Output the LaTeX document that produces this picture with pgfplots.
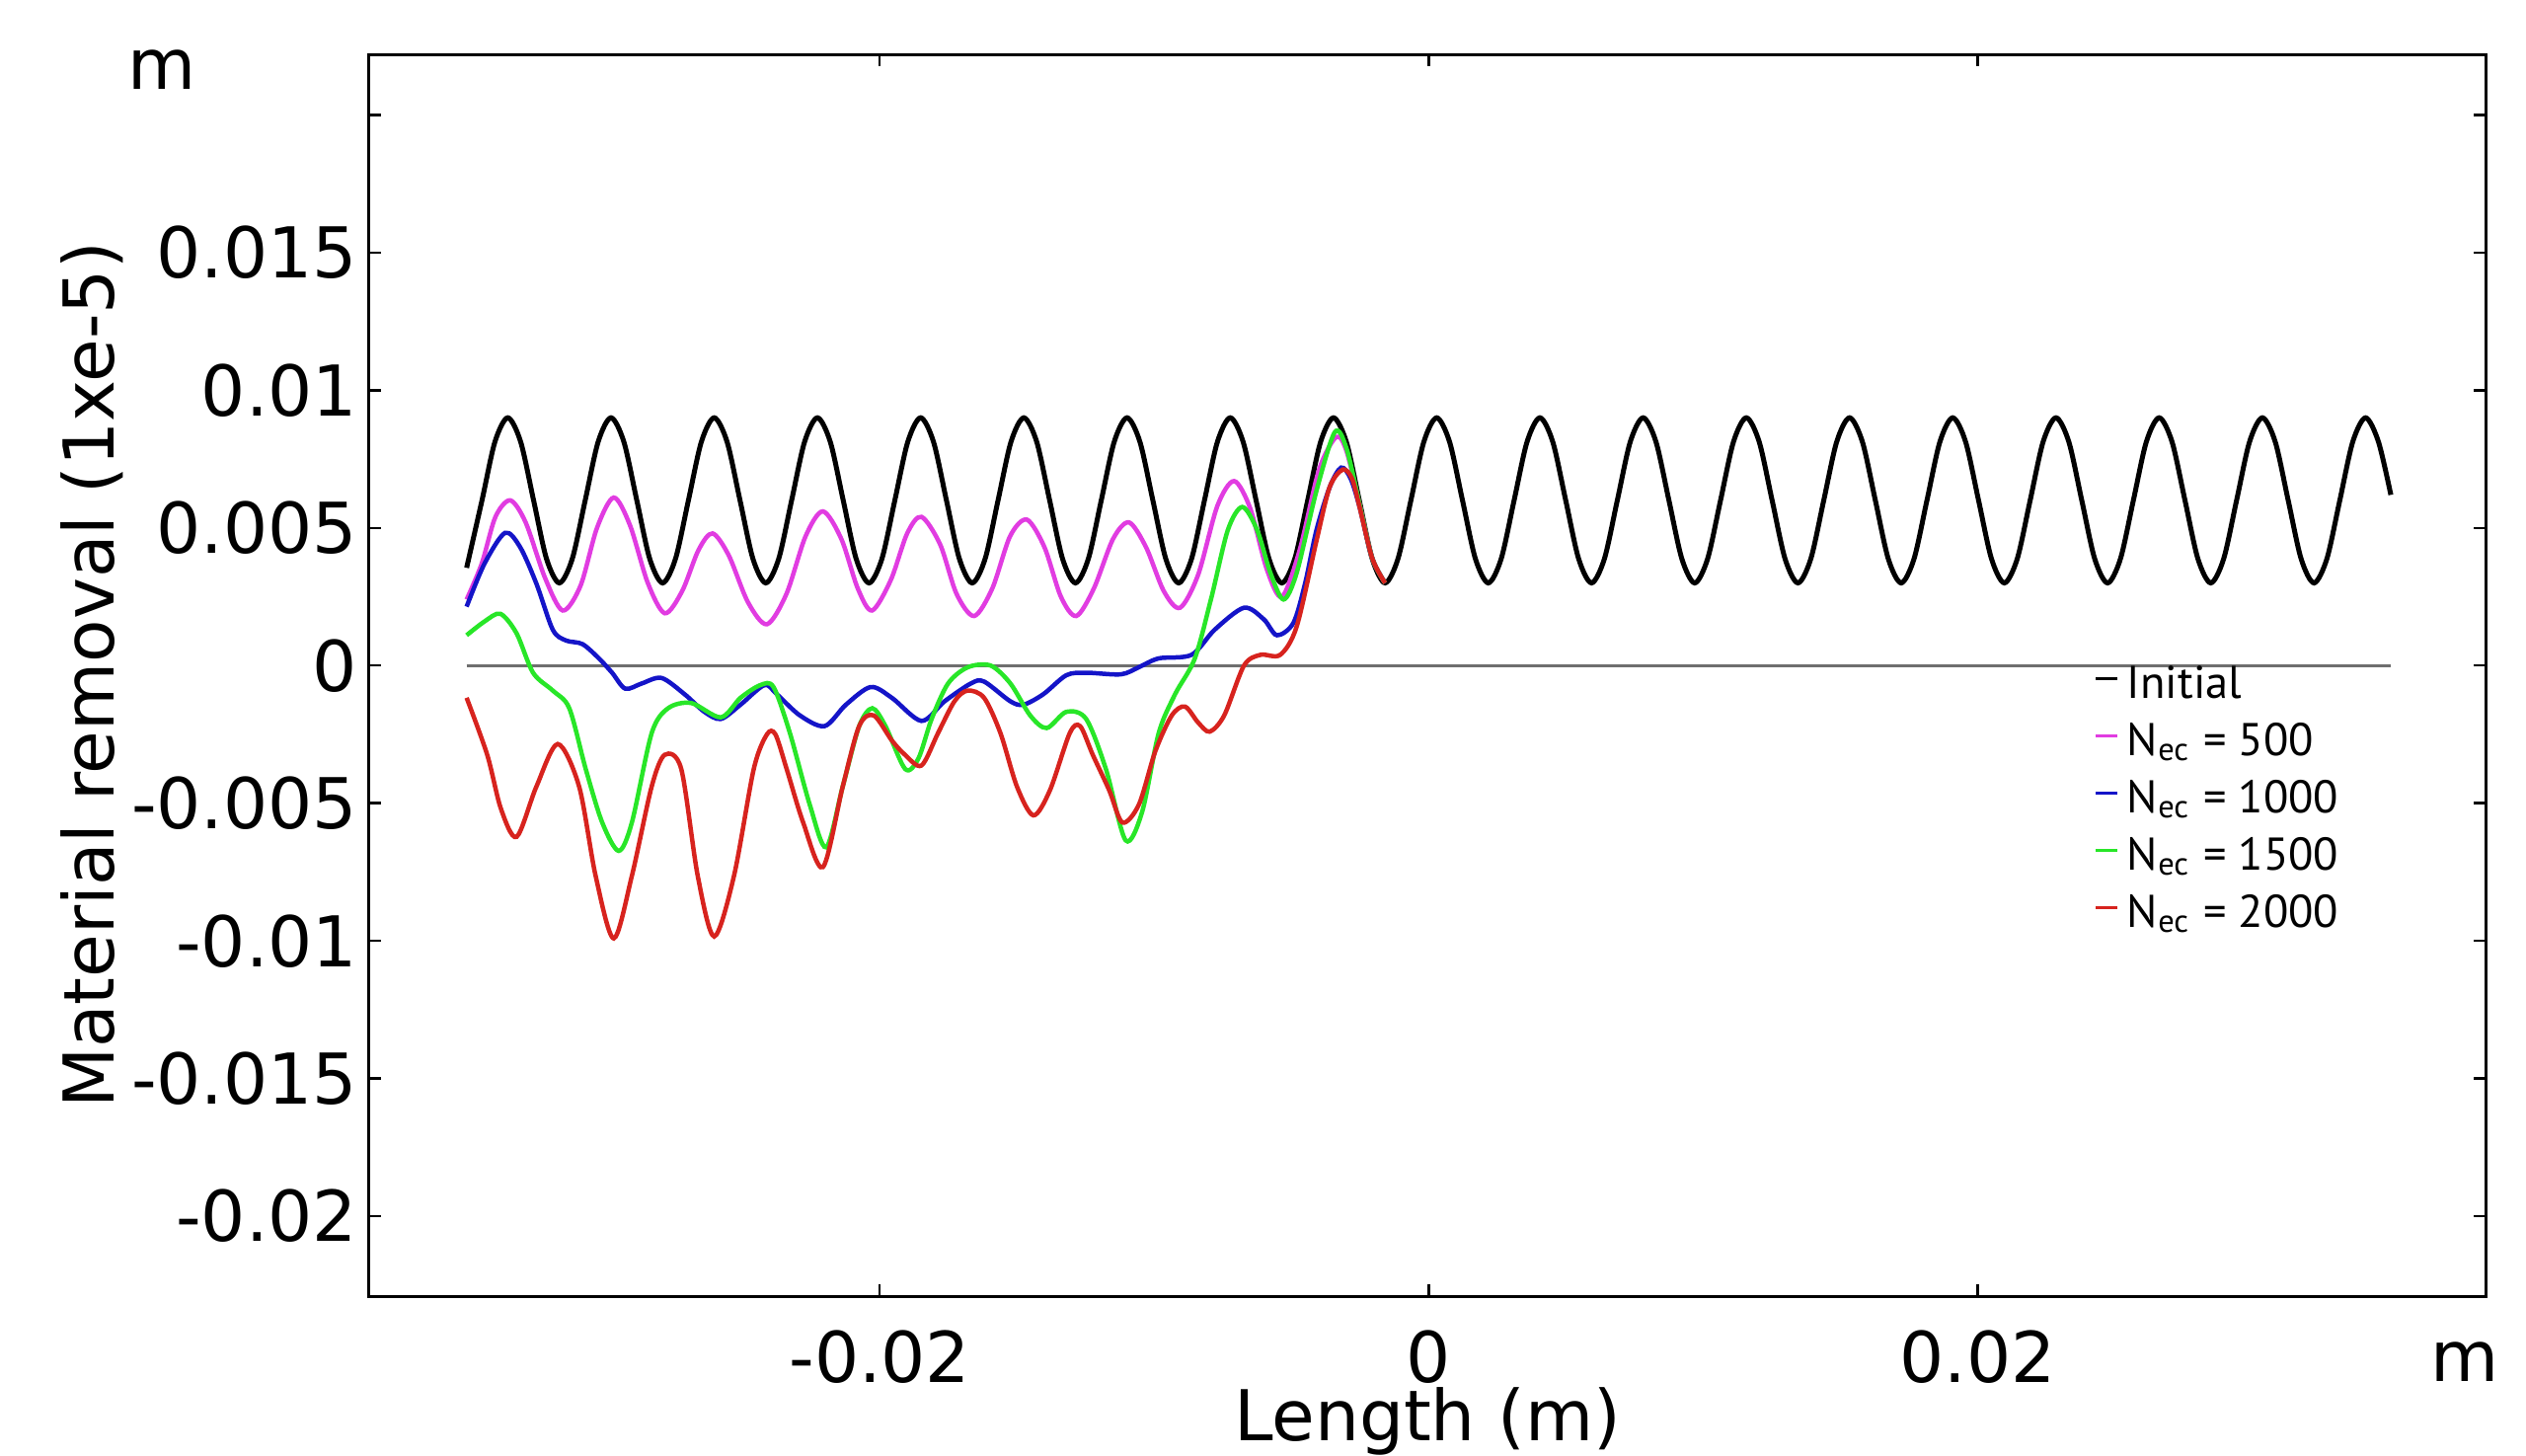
\documentclass[border=0pt]{standalone}
\usepackage{pgfplots}
\pgfplotsset{compat=1.18}
\usepackage{fontspec}
\setmainfont{DejaVu Sans}
\newfontfamily\legfont{PT Sans}
\definecolor{cMag}{RGB}{225,60,225}
\definecolor{cBlue}{RGB}{20,20,200}
\definecolor{cGreen}{RGB}{40,230,40}
\definecolor{cRed}{RGB}{215,35,30}
\definecolor{cZero}{RGB}{110,110,110}
\newcommand{\bigf}{\fontsize{14.2}{17}\selectfont}
\begin{document}
\begin{tikzpicture}
\begin{axis}[
  at={(0,0)}, anchor=south west,
  scale only axis, width=428.8pt, height=251.6pt,
  xmin=-0.0386, xmax=0.0385, ymin=-0.0229, ymax=0.0222,
  axis line style={line width=0.6pt},
  tick align=inside, major tick length=2.4pt,
  tick style={black, line width=0.5pt},
  scaled ticks=false,
  xtick={-0.02,0,0.02}, xticklabels={-0.02,0,0.02},
  ytick={-0.02,-0.015,-0.01,-0.005,0,0.005,0.01,0.015,0.02},
  yticklabels={-0.02,-0.015,-0.01,-0.005,0,0.005,0.01,0.015,{}},
  ticklabel style={font=\bigf},
  xticklabel style={anchor=north, inner sep=0pt, yshift=-6.8pt},
  yticklabel style={anchor=east, inner sep=0pt, xshift=-2.2pt},
  xlabel={Length (m)}, ylabel={Material removal (1xe-5)},
  every axis x label/.style={at={(axis description cs:0.5,-0.0731)}, anchor=north, inner sep=0pt, font=\bigf},
  every axis y label/.style={at={(axis description cs:-0.1311,0.5)}, anchor=center, rotate=90, font=\bigf},
  clip=false,
  legend style={at={(axis description cs:0.8148,0.510)}, anchor=north west,
    draw=none, fill=none, inner sep=0pt, row sep=0pt, column sep=1.6pt,
    font=\legfont\fontsize{9.3}{10}\selectfont,
    nodes={inner sep=0pt, text height=7pt, text depth=4.6pt, anchor=west}},
  legend cell align=left,
  legend image code/.code={\draw[#1, line width=0.6pt] (0pt,2.8pt) -- (4.4pt,2.8pt);},
]
\addplot[cZero, line width=0.6pt, forget plot] coordinates {(-0.03505,0) (0.03505,0)};

\addplot[black, line width=1pt, smooth] coordinates {
(-0.03505,0.00355) (-0.03449,0.00600) (-0.03402,0.00812) (-0.03355,0.00900)
(-0.03308,0.00812) (-0.03261,0.006) (-0.03214,0.00388) (-0.03167,0.003)
(-0.03120,0.00388) (-0.03073,0.006) (-0.03026,0.00812) (-0.02979,0.009)
(-0.02932,0.00812) (-0.02885,0.006) (-0.02838,0.00388) (-0.02791,0.003)
(-0.02744,0.00388) (-0.02697,0.006) (-0.02650,0.00812) (-0.02603,0.009)
(-0.02556,0.00812) (-0.02509,0.006) (-0.02462,0.00388) (-0.02415,0.003)
(-0.02368,0.00388) (-0.02321,0.006) (-0.02274,0.00812) (-0.02227,0.009)
(-0.02180,0.00812) (-0.02133,0.006) (-0.02086,0.00388) (-0.02039,0.003)
(-0.01992,0.00388) (-0.01945,0.006) (-0.01898,0.00812) (-0.01851,0.009)
(-0.01804,0.00812) (-0.01757,0.006) (-0.01710,0.00388) (-0.01663,0.003)
(-0.01616,0.00388) (-0.01569,0.006) (-0.01522,0.00812) (-0.01475,0.009)
(-0.01428,0.00812) (-0.01381,0.006) (-0.01334,0.00388) (-0.01287,0.003)
(-0.01240,0.00388) (-0.01193,0.006) (-0.01146,0.00812) (-0.01099,0.009)
(-0.01052,0.00812) (-0.01005,0.006) (-0.00958,0.00388) (-0.00911,0.003)
(-0.00864,0.00388) (-0.00817,0.006) (-0.00770,0.00812) (-0.00723,0.009)
(-0.00676,0.00812) (-0.00629,0.006) (-0.00582,0.00388) (-0.00535,0.003)
(-0.00488,0.00388) (-0.00441,0.006) (-0.00394,0.00812) (-0.00347,0.009)
(-0.00300,0.00812) (-0.00253,0.006) (-0.00206,0.00388) (-0.00159,0.003)
(-0.00112,0.00388) (-0.00065,0.006) (-0.00018,0.00812) (0.00029,0.009)
(0.00076,0.00812) (0.00123,0.006) (0.00170,0.00388) (0.00217,0.003)
(0.00264,0.00388) (0.00311,0.006) (0.00358,0.00812) (0.00405,0.009)
(0.00452,0.00812) (0.00499,0.006) (0.00546,0.00388) (0.00593,0.003)
(0.00640,0.00388) (0.00687,0.006) (0.00734,0.00812) (0.00781,0.009)
(0.00828,0.00812) (0.00875,0.006) (0.00922,0.00388) (0.00969,0.003)
(0.01016,0.00388) (0.01063,0.006) (0.01110,0.00812) (0.01157,0.009)
(0.01204,0.00812) (0.01251,0.006) (0.01298,0.00388) (0.01345,0.003)
(0.01392,0.00388) (0.01439,0.006) (0.01486,0.00812) (0.01533,0.009)
(0.01580,0.00812) (0.01627,0.006) (0.01674,0.00388) (0.01721,0.003)
(0.01768,0.00388) (0.01815,0.006) (0.01862,0.00812) (0.01909,0.009)
(0.01956,0.00812) (0.02003,0.006) (0.02050,0.00388) (0.02097,0.003)
(0.02144,0.00388) (0.02191,0.006) (0.02238,0.00812) (0.02285,0.009)
(0.02332,0.00812) (0.02379,0.006) (0.02426,0.00388) (0.02473,0.003)
(0.02520,0.00388) (0.02567,0.006) (0.02614,0.00812) (0.02661,0.009)
(0.02708,0.00812) (0.02755,0.006) (0.02802,0.00388) (0.02849,0.003)
(0.02896,0.00388) (0.02943,0.006) (0.02990,0.00812) (0.03037,0.009)
(0.03084,0.00812) (0.03131,0.006) (0.03178,0.00388) (0.03225,0.003)
(0.03272,0.00388) (0.03319,0.006) (0.03366,0.00812) (0.03413,0.009)
(0.03460,0.00812) (0.03505,0.0062)
};
\addlegendentry{Initial}

\addplot[cMag, line width=0.9pt, smooth] coordinates {
(-0.03505,0.0024) (-0.0345,0.0037) (-0.03400,0.0054) (-0.03346,0.0060)
(-0.03290,0.0052) (-0.03220,0.0032) (-0.03155,0.0020) (-0.03090,0.0029)
(-0.03030,0.0050) (-0.02969,0.0061) (-0.02910,0.0051) (-0.02845,0.0030)
(-0.02783,0.0019) (-0.02720,0.0027) (-0.02660,0.0042) (-0.02609,0.0048)
(-0.02550,0.0040) (-0.02480,0.0023) (-0.02411,0.0015) (-0.02340,0.0026)
(-0.02270,0.0047) (-0.02207,0.0056) (-0.02140,0.0046) (-0.02080,0.0028)
(-0.02028,0.0020) (-0.01960,0.0031) (-0.01900,0.0048) (-0.01848,0.0054)
(-0.01780,0.0044) (-0.01720,0.0026) (-0.01656,0.0018) (-0.01590,0.0028)
(-0.01525,0.0047) (-0.01464,0.0053) (-0.01400,0.0043) (-0.01340,0.0025)
(-0.01284,0.0018) (-0.01220,0.0028) (-0.01150,0.0046) (-0.01092,0.0052)
(-0.01030,0.0043) (-0.00965,0.0027) (-0.00906,0.0021) (-0.00840,0.0033)
(-0.00770,0.0058) (-0.00709,0.0067) (-0.00650,0.0057) (-0.00590,0.0035)
(-0.00535,0.0025) (-0.00470,0.0042) (-0.00400,0.0071) (-0.00337,0.0083)
(-0.00300,0.0078) (-0.00253,0.0059) (-0.00206,0.0039) (-0.00159,0.0030)
};
\addlegendentry{N\textsubscript{ec} = 500}

\addplot[cBlue, line width=0.9pt, smooth] coordinates {
(-0.03505,0.00214) (-0.03440,0.0037) (-0.03365,0.00482) (-0.03310,0.0043)
(-0.03251,0.00298) (-0.03191,0.00130) (-0.03143,0.00091) (-0.03083,0.00078)
(-0.03023,0.00026) (-0.02975,-0.00026) (-0.02927,-0.00084) (-0.02867,-0.00065)
(-0.02795,-0.00045) (-0.02711,-0.00104) (-0.02639,-0.00168) (-0.02579,-0.00194)
(-0.02507,-0.00142) (-0.02420,-0.00071) (-0.02375,-0.00104) (-0.02291,-0.00181)
(-0.02201,-0.0022) (-0.02123,-0.00142) (-0.02033,-0.00078) (-0.01956,-0.00117)
(-0.01848,-0.00201) (-0.01764,-0.0013) (-0.01668,-0.00065) (-0.01620,-0.00058)
(-0.01524,-0.0013) (-0.01476,-0.00142) (-0.01404,-0.00104) (-0.01320,-0.00035)
(-0.01248,-0.00026) (-0.01122,-0.00032) (-0.01056,-0.00006) (-0.00984,0.00026)
(-0.00864,0.00039) (-0.00780,0.0013) (-0.00673,0.0021) (-0.00601,0.00168)
(-0.00553,0.0011) (-0.00493,0.00155) (-0.00450,0.0030) (-0.00409,0.00492)
(-0.00360,0.0065) (-0.00319,0.00719) (-0.00285,0.0068) (-0.00253,0.0058)
(-0.00206,0.0039) (-0.00159,0.0030)
};
\addlegendentry{N\textsubscript{ec} = 1000}

\addplot[cGreen, line width=0.9pt, smooth] coordinates {
(-0.03505,0.00110) (-0.03440,0.0016) (-0.03382,0.00188) (-0.03323,0.00117)
(-0.03263,-0.00026) (-0.03191,-0.00091) (-0.03131,-0.00155) (-0.03071,-0.00376)
(-0.03011,-0.0057) (-0.02951,-0.00673) (-0.02903,-0.0057) (-0.02831,-0.00246)
(-0.02771,-0.00155) (-0.02687,-0.00136) (-0.02579,-0.00188) (-0.02507,-0.00117)
(-0.02435,-0.00071) (-0.02387,-0.00078) (-0.02327,-0.00246) (-0.02255,-0.00505)
(-0.02195,-0.0066) (-0.02135,-0.0044) (-0.02075,-0.0022) (-0.02027,-0.00155)
(-0.01979,-0.0022) (-0.01907,-0.00376) (-0.01859,-0.00337) (-0.01811,-0.00194)
(-0.01751,-0.00065) (-0.01679,-0.00006) (-0.01596,0.0000) (-0.01524,-0.00065)
(-0.01452,-0.00181) (-0.01392,-0.00227) (-0.01320,-0.00168) (-0.01248,-0.00194)
(-0.01176,-0.00376) (-0.01104,-0.00635) (-0.01044,-0.00531) (-0.00984,-0.00246)
(-0.00924,-0.00104) (-0.00852,0.00026) (-0.00792,0.00246) (-0.00732,0.00492)
(-0.00679,0.00576) (-0.00625,0.00492) (-0.00577,0.00337) (-0.00529,0.00240)
(-0.00481,0.00337) (-0.00409,0.00635) (-0.00342,0.00848) (-0.00300,0.0079)
(-0.00253,0.0059) (-0.00206,0.0039) (-0.00159,0.0030)
};
\addlegendentry{N\textsubscript{ec} = 1500}

\addplot[cRed, line width=0.9pt, smooth] coordinates {
(-0.03505,-0.00117) (-0.03430,-0.00324) (-0.03380,-0.0052) (-0.03323,-0.00622)
(-0.03251,-0.0044) (-0.03173,-0.00285) (-0.03095,-0.0044) (-0.03035,-0.00764)
(-0.02969,-0.00991) (-0.02903,-0.00764) (-0.02831,-0.0044) (-0.02783,-0.00324)
(-0.02723,-0.00376) (-0.02663,-0.00764) (-0.02603,-0.00984) (-0.02531,-0.00764)
(-0.02459,-0.00376) (-0.02411,-0.00250) (-0.02380,-0.00250) (-0.02339,-0.00376)
(-0.02279,-0.0057) (-0.02207,-0.00732) (-0.02135,-0.0044) (-0.02075,-0.0022)
(-0.02022,-0.00181) (-0.01956,-0.00272) (-0.01908,-0.00324) (-0.01848,-0.00363)
(-0.01788,-0.00246) (-0.01728,-0.0013) (-0.01680,-0.00091) (-0.01620,-0.00117)
(-0.01560,-0.00246) (-0.01500,-0.0044) (-0.01440,-0.00544) (-0.01380,-0.00453)
(-0.01308,-0.00246) (-0.01270,-0.0022) (-0.01224,-0.00324) (-0.01164,-0.00453)
(-0.01116,-0.0057) (-0.01056,-0.00505) (-0.00996,-0.00311) (-0.00936,-0.00181)
(-0.00888,-0.00149) (-0.00840,-0.00207) (-0.00798,-0.00240) (-0.00745,-0.00181)
(-0.00673,0.0000) (-0.00613,0.00039) (-0.00541,0.00039) (-0.00481,0.00142)
(-0.00409,0.00453) (-0.00361,0.00648) (-0.00313,0.00712) (-0.00280,0.0068)
(-0.00253,0.0058) (-0.00206,0.0039) (-0.00159,0.0030)
};
\addlegendentry{N\textsubscript{ec} = 2000}

\node[anchor=base, inner sep=0pt, font=\bigf] at (axis description cs:-0.098,0.972) {m};
\node[anchor=base, inner sep=0pt, font=\bigf] at (axis description cs:0.990,-0.0684) {m};
\end{axis}
\pgfresetboundingbox
\path[use as bounding box] (-74.8pt,-32.2pt) rectangle (437pt,262.6pt);
\end{tikzpicture}
\end{document}
